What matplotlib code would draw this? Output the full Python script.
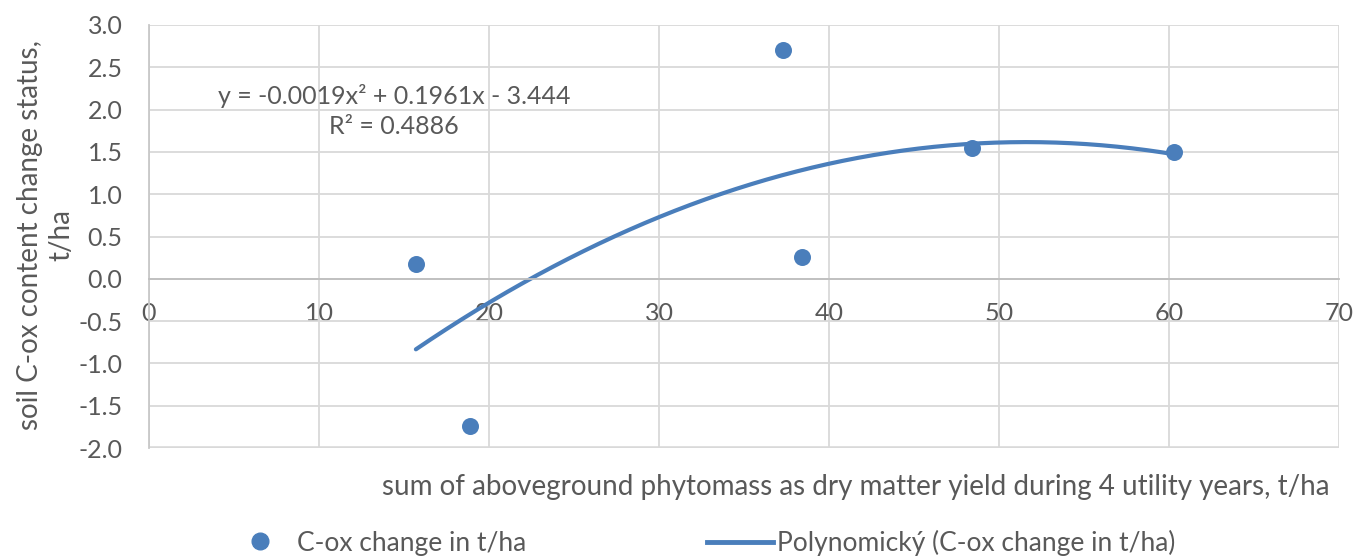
import numpy as np
import matplotlib.pyplot as plt
from matplotlib.lines import Line2D

plt.rcParams['font.family'] = ['Lato', 'DejaVu Sans']

# dry matter yield (t/ha) vs change of soil C-ox (t/ha)
yield_sum = [15.7, 18.9, 37.3, 38.4, 48.4, 60.3]
cox_change = [0.18, -1.74, 2.71, 0.26, 1.55, 1.50]

# polynomial trendline as reported
coef = [-0.0019, 0.1961, -3.444]
r2 = 0.4886

x_ticks = [0, 10, 20, 30, 40, 50, 60, 70]
y_ticks = [-2.0, -1.5, -1.0, -0.5, 0.0, 0.5, 1.0, 1.5, 2.0, 2.5, 3.0]

blue = '#4a7ebb'
grid_c = '#d9d9d9'
txt_c = '#595959'
fs = 18

fig = plt.figure(figsize=(13.55, 5.59), dpi=100)
ax = fig.add_axes([149 / 1355, 1 - 448 / 559, (1339 - 149) / 1355, (448 - 25) / 559])

ax.set_xlim(0, 70)
ax.set_ylim(-2.0, 3.0)
ax.set_xticks(x_ticks)
ax.set_yticks(y_ticks)
ax.set_yticklabels([f'{v:.1f}' for v in y_ticks])
ax.grid(True, color=grid_c, linewidth=1.3)
ax.set_axisbelow(True)
ax.tick_params(length=0, labelsize=fs, labelcolor=txt_c)
ax.tick_params(axis='x', pad=17)
ax.tick_params(axis='y', pad=19)

for s in ['top', 'right']:
    ax.spines[s].set_visible(False)
ax.spines['left'].set_color('#c8c8c8')
ax.spines['left'].set_linewidth(1.3)
ax.spines['bottom'].set_position(('data', 0))
ax.spines['bottom'].set_color('#bfbfbf')
ax.spines['bottom'].set_linewidth(1.3)
ax.axhline(ax.get_ylim()[0], color=grid_c, linewidth=2.6, zorder=0)

# scatter points
ax.scatter(yield_sum, cox_change, s=150, color=blue, zorder=3, linewidths=0)

# trendline over the data range
xs = np.linspace(min(yield_sum), max(yield_sum), 200)
ax.plot(xs, np.polyval(coef, xs), color=blue, linewidth=3, solid_capstyle='round', zorder=2)

eq = f'y = {coef[0]}x² + {coef[1]}x - {abs(coef[2])}\nR² = {r2}'
ax.text(14.4, 1.98, eq, ha='center', va='center', fontsize=fs, color=txt_c,
        linespacing=1.35, multialignment='center')

fig.text(46 / 1355, 1 - 235 / 559, 'soil C-ox content change status,\nt/ha', rotation=90,
         ha='center', va='center', fontsize=20, color=txt_c, multialignment='center',
         linespacing=1.25)
fig.text(1330 / 1355, 1 - 487 / 559,
         'sum of aboveground phytomass as dry matter yield during 4 utility years, t/ha',
         ha='right', va='center', fontsize=20, color=txt_c)

lg = dict(loc='center left', frameon=False, fontsize=19, labelcolor=txt_c,
          handlelength=2.5, handletextpad=0.15, borderpad=0, borderaxespad=0)
h1 = Line2D([0], [0], marker='o', linestyle='none', color=blue, markersize=12)
h2 = Line2D([0], [0], color=blue, linewidth=3.5)
fig.legend(handles=[h1], labels=['C-ox change in t/ha'],
           bbox_to_anchor=(227 / 1355, 1 - 543 / 559), **lg)
fig.legend(handles=[h2], labels=['Polynomický (C-ox change in t/ha)'],
           bbox_to_anchor=(707 / 1355, 1 - 543 / 559), **lg)

fig.savefig('out.png', dpi=100)
